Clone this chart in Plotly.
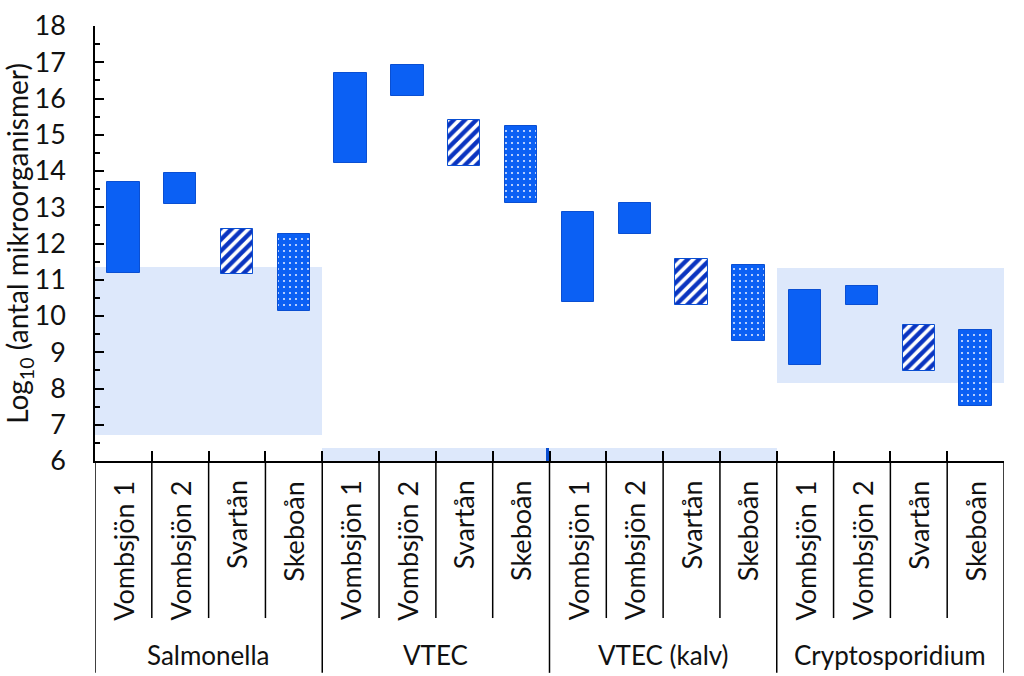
import plotly.graph_objects as go

# data
groups = ["Salmonella", "VTEC", "VTEC (kalv)", "Cryptosporidium"]
sites = ["Vombsjön 1", "Vombsjön 2", "Svartån", "Skeboån"]

low_vals = [11.2, 13.1, 11.15, 10.15,
            14.23, 16.07, 14.15, 13.13,
            10.38, 12.25, 10.3, 9.3,
            8.65, 10.29, 8.49, 7.52]
high_vals = [13.71, 13.95, 12.41, 12.25,
             16.7, 16.93, 15.4, 15.25,
             12.88, 13.13, 11.56, 11.42,
             10.73, 10.84, 9.74, 9.62]

band_low = [6.72, 6.0, 6.0, 8.16]
band_high = [11.35, 6.37, 6.37, 11.32]

BLUE = "#0B60F4"
EDGE = "#0A4FD2"
BAND = "#DDE8FB"
FONT = "Lato"
FS = 27

n_sites = len(sites)
xpos = list(range(len(groups) * n_sites))
group_center = [g * n_sites + (n_sites - 1) / 2 for g in range(len(groups))]

fig = go.Figure()

# background ranges per group
fig.add_trace(go.Bar(
    x=group_center, y=[h - l for l, h in zip(band_low, band_high)], base=band_low,
    width=n_sites, marker=dict(color=BAND, line=dict(width=0)), hoverinfo="skip",
))
# small mark at the VTEC / VTEC (kalv) boundary
fig.add_trace(go.Bar(
    x=[7.47], y=[band_high[1] - band_low[1]], base=[band_low[1]], width=0.05,
    marker=dict(color=EDGE, line=dict(width=0)), hoverinfo="skip",
))

styles = {
    0: dict(color=BLUE, line=dict(color=EDGE, width=1)),
    1: dict(color=BLUE, line=dict(color=EDGE, width=1)),
    2: dict(color="white", line=dict(color=EDGE, width=1),
            pattern=dict(shape="/", fgcolor="#0A34C0", bgcolor="white", fgopacity=1,
                         size=8, solidity=0.55)),
    3: dict(color=BLUE, line=dict(color=EDGE, width=1),
            pattern=dict(shape=".", fgcolor="#DCE6FF", bgcolor=BLUE, fgopacity=1,
                         size=6, solidity=0.1)),
}
for s in range(n_sites):
    idx = [i for i in xpos if i % n_sites == s]
    fig.add_trace(go.Bar(
        x=idx, y=[high_vals[i] - low_vals[i] for i in idx], base=[low_vals[i] for i in idx],
        width=0.57, marker=styles[s], name=sites[s],
    ))

shapes = []
# divider lines below the axis
for b in range(len(xpos) + 1):
    xb = b - 0.5
    y_end = -0.487 if b % n_sites == 0 else -0.361
    shapes.append(dict(type="line", xref="x", yref="paper", x0=xb, x1=xb, y0=0, y1=y_end,
                       line=dict(color="black", width=1.5)))

annotations = []
for i in xpos:
    annotations.append(dict(x=i, y=-0.04, xref="x", yref="paper", text=sites[i % n_sites],
                            textangle=-90, showarrow=False, xanchor="center", yanchor="top",
                            font=dict(family=FONT, size=FS, color="#111")))
for g, name in enumerate(groups):
    annotations.append(dict(x=group_center[g], y=-0.446, xref="x", yref="paper", text=name,
                            showarrow=False, xanchor="center", yanchor="middle",
                            font=dict(family=FONT, size=26, color="#111")))

fig.update_layout(
    width=1024, height=676,
    margin=dict(l=95, r=20, t=26, b=215),
    plot_bgcolor="white", paper_bgcolor="white",
    barmode="overlay", bargap=0, showlegend=False,
    font=dict(family=FONT, size=FS, color="#111"),
    shapes=shapes, annotations=annotations,
    xaxis=dict(range=[-0.5, 15.5], showgrid=False, zeroline=False, showline=True,
               linecolor="black", linewidth=1.5, showticklabels=False, automargin=False,
               tickvals=[b - 0.5 for b in range(len(xpos) + 1)], ticks="inside",
               ticklen=10, tickwidth=1.5, tickcolor="black"),
    yaxis=dict(range=[6, 18], dtick=1, showgrid=False, zeroline=False, showline=True,
               linecolor="black", linewidth=1.5, ticks="inside", ticklen=9,
               tickwidth=1.5, tickcolor="black", ticklabelstandoff=22, automargin=False,
               tickfont=dict(family=FONT, size=27),
               minor=dict(dtick=0.5, ticks="inside", ticklen=5, tickwidth=1.5, tickcolor="black"),
               title=dict(text="Log<sub>10</sub> (antal mikroorganismer)", standoff=6,
                          font=dict(family=FONT, size=28))),
)

# drop the page's default body margin so the 1024x676 figure sits at the window origin
fig.write_html("out.html", config={"displayModeBar": False},
               post_script="document.body.style.margin='0';")
